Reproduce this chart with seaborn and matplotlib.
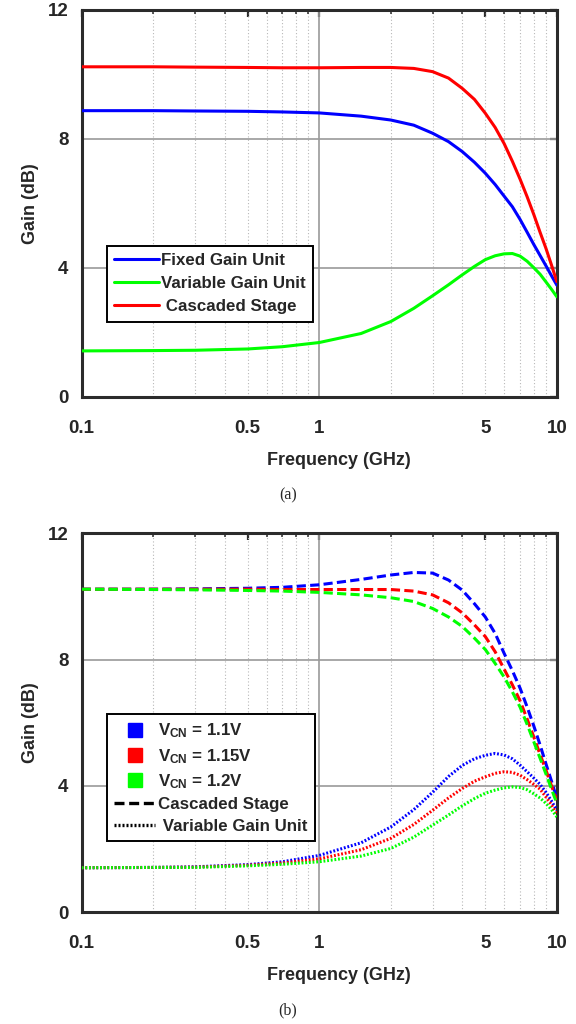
import numpy as np
import pandas as pd
import seaborn as sns
import matplotlib
matplotlib.use("Agg")
import matplotlib.pyplot as plt
from matplotlib.lines import Line2D
from matplotlib.ticker import FixedLocator, LogLocator, NullFormatter, FixedFormatter

# ---------------- data ----------------
freq_ghz = [0.1, 0.2, 0.3, 0.5, 0.7, 1.0, 1.5, 2.0, 2.5, 3.0, 3.5, 4.0,
            4.5, 5.0, 5.5, 6.0, 6.5, 7.0, 7.5, 8.0, 8.5, 9.0, 9.5, 10.0]

# (a) individual stages
fixed_gain_unit = [8.87, 8.87, 8.86, 8.85, 8.83, 8.80, 8.70, 8.58, 8.42, 8.17, 7.91, 7.60,
                   7.27, 6.93, 6.58, 6.22, 5.89, 5.50, 5.10, 4.72, 4.38, 4.06, 3.75, 3.46]
variable_gain_unit = [1.42, 1.43, 1.44, 1.48, 1.55, 1.68, 1.96, 2.33, 2.74, 3.13, 3.47, 3.78,
                      4.04, 4.25, 4.37, 4.43, 4.44, 4.36, 4.20, 4.00, 3.80, 3.56, 3.33, 3.10]
cascaded_stage = [10.23, 10.23, 10.22, 10.21, 10.20, 10.20, 10.21, 10.21, 10.18, 10.08, 9.88, 9.56,
                  9.22, 8.79, 8.35, 7.85, 7.30, 6.75, 6.20, 5.65, 5.10, 4.60, 4.08, 3.57]

# (b) control-voltage sweep
vcn_labels = ["1.1V", "1.15V", "1.2V"]
cascaded_11 = [10.23, 10.23, 10.24, 10.26, 10.29, 10.37, 10.54, 10.68, 10.76, 10.74, 10.52, 10.20,
               9.77, 9.35, 8.83, 8.20, 7.65, 7.10, 6.50, 5.90, 5.30, 4.70, 4.15, 3.60]
cascaded_115 = [10.23, 10.23, 10.23, 10.23, 10.22, 10.22, 10.22, 10.22, 10.17, 10.05, 9.80, 9.48,
                9.10, 8.73, 8.25, 7.70, 7.20, 6.70, 6.12, 5.55, 5.00, 4.50, 4.00, 3.55]
cascaded_12 = [10.23, 10.22, 10.21, 10.19, 10.17, 10.13, 10.05, 9.96, 9.84, 9.62, 9.35, 9.05,
               8.68, 8.32, 7.88, 7.45, 6.98, 6.50, 5.95, 5.40, 4.88, 4.38, 3.90, 3.45]
vgu_11 = [1.41, 1.42, 1.44, 1.51, 1.60, 1.80, 2.20, 2.70, 3.25, 3.80, 4.30, 4.65,
          4.86, 4.97, 5.03, 4.98, 4.86, 4.66, 4.45, 4.25, 4.05, 3.80, 3.52, 3.23]
vgu_115 = [1.41, 1.42, 1.43, 1.49, 1.56, 1.69, 1.98, 2.34, 2.78, 3.23, 3.62, 3.92,
           4.15, 4.29, 4.40, 4.45, 4.43, 4.34, 4.20, 4.05, 3.90, 3.65, 3.40, 3.12]
vgu_12 = [1.41, 1.42, 1.42, 1.47, 1.52, 1.60, 1.78, 2.02, 2.38, 2.76, 3.08, 3.37,
          3.60, 3.77, 3.87, 3.94, 3.97, 3.95, 3.88, 3.75, 3.62, 3.45, 3.25, 3.02]

x_ticks = [0.1, 0.5, 1, 5, 10]
x_tick_labels = ["0.1", "0.5", "1", "5", "10"]
y_ticks = [0, 4, 8, 12]

# ---------------- style ----------------
sns.set_theme(style="white")
FONT = ["Liberation Sans", "DejaVu Sans"]
plt.rcParams["font.family"] = FONT
plt.rcParams["font.weight"] = "bold"
plt.rcParams["mathtext.fontset"] = "custom"
plt.rcParams["mathtext.rm"] = "Liberation Sans:bold"
plt.rcParams["mathtext.bf"] = "Liberation Sans:bold"

BLUE, GREEN, RED = "#0000ff", "#00ff00", "#ff0000"
SPINE = "#2b2b2b"
DASH = (3.0, 1.4)
DOT = (0.6, 0.6)

df_a = pd.DataFrame({
    "Frequency": freq_ghz * 3,
    "Gain": fixed_gain_unit + variable_gain_unit + cascaded_stage,
    "Block": ["Fixed Gain Unit"] * len(freq_ghz) + ["Variable Gain Unit"] * len(freq_ghz)
             + ["Cascaded Stage"] * len(freq_ghz),
})

rows = []
for v, cas, vgu in zip(vcn_labels, [cascaded_11, cascaded_115, cascaded_12],
                       [vgu_11, vgu_115, vgu_12]):
    for f, g in zip(freq_ghz, cas):
        rows.append((f, g, v, "Cascaded Stage"))
    for f, g in zip(freq_ghz, vgu):
        rows.append((f, g, v, "Variable Gain Unit"))
df_b = pd.DataFrame(rows, columns=["Frequency", "Gain", "VCN", "Stage"])

fig = plt.figure(figsize=(5.76, 10.24), dpi=100)
ax_a = fig.add_axes([0.1418, 0.6126, 0.8249, 0.3779])
ax_b = fig.add_axes([0.1418, 0.1091, 0.8249, 0.3701])


def style_axes(ax):
    ax.set_xscale("log")
    ax.set_xlim(0.1, 10)
    ax.set_ylim(0, 12)
    ax.xaxis.remove_overlapping_locs = False
    ax.xaxis.set_major_locator(FixedLocator(x_ticks))
    ax.xaxis.set_major_formatter(FixedFormatter(x_tick_labels))
    ax.xaxis.set_minor_locator(LogLocator(base=10, subs=np.arange(2, 10)))
    ax.xaxis.set_minor_formatter(NullFormatter())
    ax.set_yticks(y_ticks)
    ax.grid(False)
    ax.grid(which="minor", axis="x", color="#b8b8b8", linestyle=(0, (1, 2)), linewidth=0.8)
    ax.axvline(1, color="#9a9a9a", linewidth=1.2, zorder=1)
    for yv in [4, 8]:
        ax.axhline(yv, color="#9a9a9a", linewidth=1.2, zorder=1)
    ax.tick_params(which="both", direction="in", top=True, right=True, color=SPINE)
    ax.tick_params(which="major", length=5, width=1.6, labelsize=13.5)
    ax.tick_params(axis="x", which="major", pad=16.5)
    ax.tick_params(axis="y", which="major", pad=9.5)
    ax.tick_params(which="minor", length=3, width=1.1)
    for lab in ax.get_xticklabels() + ax.get_yticklabels():
        lab.set_fontweight("bold")
    for s in ax.spines.values():
        s.set_color(SPINE)
        s.set_linewidth(2.2)
    ax.set_xlabel("Frequency (GHz)", fontsize=13, fontweight="bold", labelpad=11, x=0.542)
    ax.set_ylabel("Gain (dB)", fontsize=13, fontweight="bold", labelpad=6)


# (a)
sns.lineplot(data=df_a, x="Frequency", y="Gain", hue="Block",
             palette={"Fixed Gain Unit": BLUE, "Variable Gain Unit": GREEN,
                      "Cascaded Stage": RED},
             linewidth=2.2, ax=ax_a, legend=False, zorder=3)
style_axes(ax_a)
handles_a = [Line2D([], [], color=BLUE, lw=2.2), Line2D([], [], color=GREEN, lw=2.2),
             Line2D([], [], color=RED, lw=2.2)]
leg_a = ax_a.legend(handles_a, ["Fixed Gain Unit", "Variable Gain Unit", " Cascaded Stage"],
                    loc="upper left", bbox_to_anchor=(0.053, 0.39), borderaxespad=0,
                    frameon=True, fancybox=False, edgecolor="black", framealpha=1,
                    prop={"weight": "bold", "size": 12.2, "family": FONT},
                    handlelength=2.6, handletextpad=0.15, labelspacing=0.47,
                    borderpad=0.45)
leg_a.get_frame().set_linewidth(1.4)

# (b)
sns.lineplot(data=df_b, x="Frequency", y="Gain", hue="VCN", style="Stage",
             palette={"1.1V": BLUE, "1.15V": RED, "1.2V": GREEN},
             dashes={"Cascaded Stage": DASH, "Variable Gain Unit": DOT},
             linewidth=2.2, ax=ax_b, legend=False, zorder=3)
style_axes(ax_b)
handles_b = [
    Line2D([], [], color=BLUE, marker="s", ls="none", markersize=9.5),
    Line2D([], [], color=RED, marker="s", ls="none", markersize=9.5),
    Line2D([], [], color=GREEN, marker="s", ls="none", markersize=9.5),
    Line2D([], [], color="black", lw=2.4, dashes=DASH),
    Line2D([], [], color="black", lw=2.4, dashes=DOT),
]
labels_b = [r"$\mathregular{V_{CN}}$ = " + v for v in vcn_labels] + \
           ["Cascaded Stage", " Variable Gain Unit"]
leg_b = ax_b.legend(handles_b, labels_b,
                    loc="upper left", bbox_to_anchor=(0.053, 0.523), borderaxespad=0,
                    frameon=True, fancybox=False, edgecolor="black", framealpha=1,
                    prop={"weight": "bold", "size": 12.2, "family": FONT},
                    handlelength=2.4, handletextpad=0.15, labelspacing=0.38,
                    borderpad=0.45)
leg_b.get_frame().set_linewidth(1.4)

# captions
fig.text(0.5, 1 - 495 / 1024, "(a)", ha="center", va="center",
         fontsize=11.5, family=["Liberation Serif", "DejaVu Serif"], fontweight="normal")
fig.text(0.5, 1 - 1010 / 1024, "(b)", ha="center", va="center",
         fontsize=11.5, family=["Liberation Serif", "DejaVu Serif"], fontweight="normal")

fig.savefig("out.png", dpi=100)
